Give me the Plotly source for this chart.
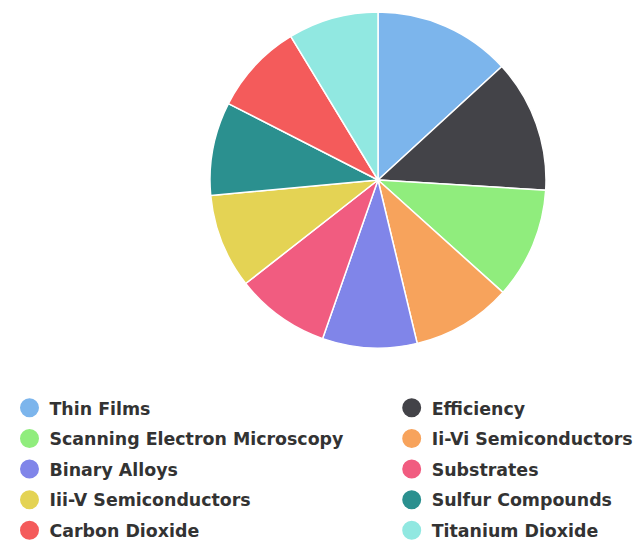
import plotly.graph_objects as go

# Topic shares, listed clockwise from 12 o'clock
categories = [
    "Thin Films", "Efficiency", "Scanning Electron Microscopy",
    "Ii-Vi Semiconductors", "Binary Alloys", "Substrates",
    "Iii-V Semiconductors", "Sulfur Compounds", "Carbon Dioxide",
    "Titanium Dioxide",
]
values = [132, 128, 107, 96, 91, 91, 91, 90, 88, 87]
colors = [
    "#7cb5ec", "#434348", "#90ed7d", "#f7a35c", "#8085e9",
    "#f15c80", "#e4d354", "#2b908f", "#f45b5b", "#91e8e1",
]

W, H = 638, 541
cx, cy, r = 378, 180, 168

fig = go.Figure()
fig.add_trace(go.Pie(
    labels=categories,
    values=values,
    sort=False,
    direction="clockwise",
    rotation=0,
    textinfo="none",
    hoverinfo="label+value+percent",
    marker=dict(colors=colors, line=dict(color="#ffffff", width=1.5)),
    showlegend=False,
    domain=dict(x=[(cx - r) / W, (cx + r) / W], y=[1 - (cy + r) / H, 1 - (cy - r) / H]),
))

# Circle-marker legend entries, alternating between a left and a right column
for i, (name, col) in enumerate(zip(categories, colors)):
    fig.add_trace(go.Scatter(
        x=[None], y=[None], mode="markers", name=name,
        legendgroup=name,
        legend="legend" if i % 2 == 0 else "legend2",
        marker=dict(color=col, size=16, symbol="circle",
                    line=dict(color=col, width=3)),
        hoverinfo="skip",
    ))

legend_font = dict(family="DejaVu Sans, sans-serif", size=17.4, color="#333333",
                   weight="bold")
legend_common = dict(
    orientation="v",
    yanchor="top",
    y=1 - 390 / H,
    xanchor="left",
    font=legend_font,
    itemsizing="trace",
    tracegroupgap=5,
    bgcolor="rgba(0,0,0,0)",
)

fig.update_layout(
    width=W, height=H,
    margin=dict(l=0, r=0, t=0, b=0, autoexpand=False),
    paper_bgcolor="#ffffff",
    plot_bgcolor="#ffffff",
    xaxis=dict(visible=False),
    yaxis=dict(visible=False),
    legend=dict(x=9.5 / W, **legend_common),
    legend2=dict(x=391.7 / W, **legend_common),
)

fig.write_html("out.html")
